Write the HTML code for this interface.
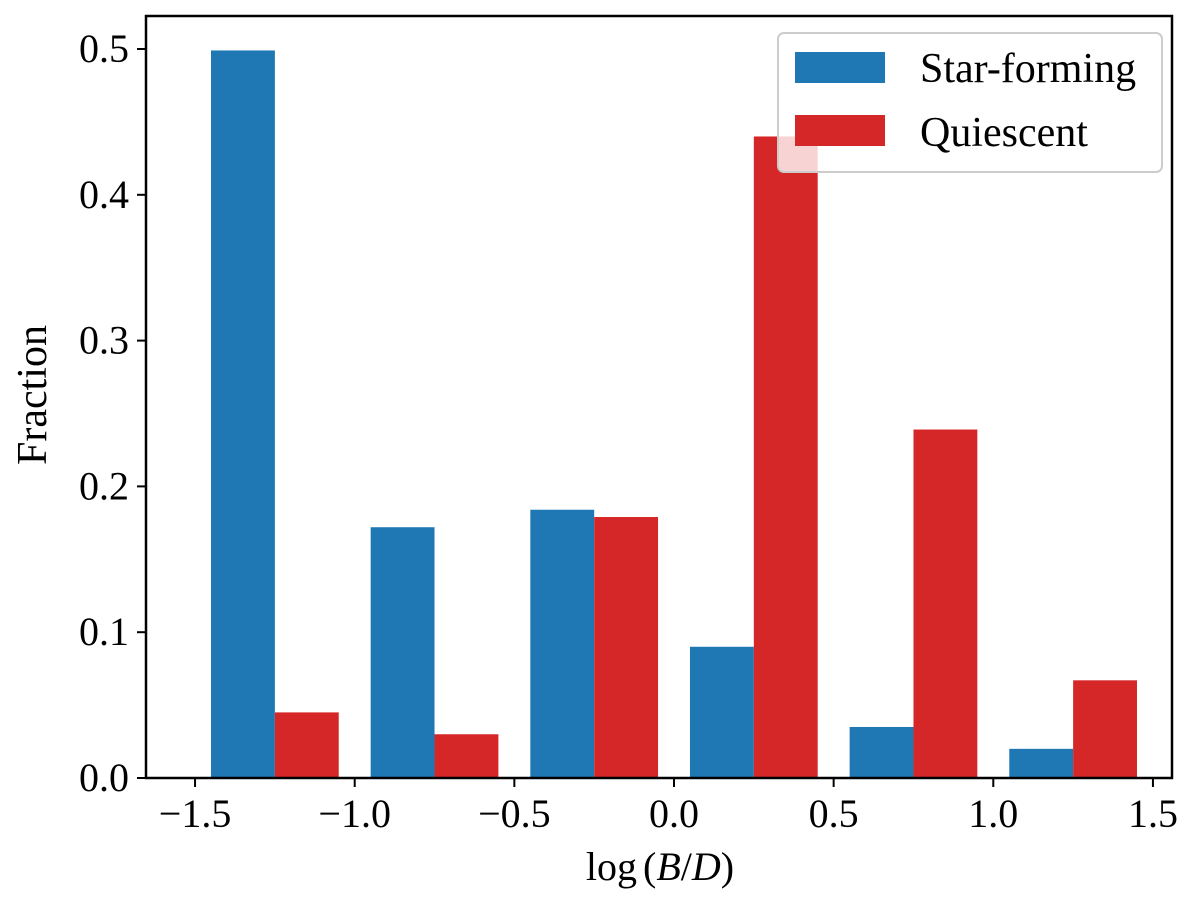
<!DOCTYPE html>
<html><head><meta charset="utf-8"><style>
html,body{margin:0;padding:0;background:#fff;}
svg text{font-family:"Liberation Serif",serif;fill:#000;}
</style></head><body>
<svg id="chart" width="1200" height="918" viewBox="0 0 1200 918" xmlns="http://www.w3.org/2000/svg">
<g id="bars"></g>
<g id="axes"></g>
<text x="660" y="880" font-size="40" text-anchor="middle">log<tspan dx="6">(</tspan><tspan font-style="italic">B</tspan>/<tspan font-style="italic">D</tspan>)</text>
<text transform="translate(46,395) rotate(-90)" font-size="42" text-anchor="middle">Fraction</text>
<g>
<rect x="778" y="33" width="384" height="139" rx="6" fill="#fff" fill-opacity="0.8" stroke="#ccc" stroke-width="2"/>
<rect x="795" y="52" width="90" height="31" fill="#1f77b4"/>
<text x="920" y="82" font-size="42">Star-forming</text>
<rect x="795" y="115" width="90" height="31" fill="#d62728"/>
<text x="920" y="146" font-size="42">Quiescent</text>
</g>
</svg>
<script>
const binCenters=[-1.25,-0.75,-0.25,0.25,0.75,1.25];
const starForming=[0.499,0.172,0.184,0.090,0.035,0.020];
const quiescent=[0.045,0.030,0.179,0.440,0.239,0.067];
const xTicks=[-1.5,-1.0,-0.5,0.0,0.5,1.0,1.5];
const yTicks=[0.0,0.1,0.2,0.3,0.4,0.5];
const L=146,R=1172,T=16,B=778;
const xs=v=>674+v*319.3;
const ys=v=>778-v*1458;
const NS="http://www.w3.org/2000/svg";
const bars=document.getElementById('bars'),axes=document.getElementById('axes');
function mk(tag,attrs,parent){const e=document.createElementNS(NS,tag);for(const k in attrs)e.setAttribute(k,attrs[k]);parent.appendChild(e);return e;}
binCenters.forEach((c,i)=>{
  const w=0.2;
  let r=mk('rect',{x:xs(c-w),y:ys(starForming[i]),width:xs(c)-xs(c-w),height:B-ys(starForming[i]),fill:'#1f77b4'},bars);
  
  
  let q=mk('rect',{x:xs(c),y:ys(quiescent[i]),width:xs(c+w)-xs(c),height:B-ys(quiescent[i]),fill:'#d62728'},bars);
  
  
});
const frame=mk('rect',{x:L,y:T,width:R-L,height:B-T,fill:'none',stroke:'#000','stroke-width':2.5},axes);


xTicks.forEach(t=>{
  mk('line',{x1:xs(t),x2:xs(t),y1:B,y2:B+9,stroke:'#000','stroke-width':2},axes);
  const tx=mk('text',{x:xs(t),y:B+49,'font-size':40,'text-anchor':'middle'},axes);
  tx.textContent=(t<0?'\u2212':'')+Math.abs(t).toFixed(1);
  
  
});
yTicks.forEach(t=>{
  mk('line',{x1:L-9,x2:L,y1:ys(t),y2:ys(t),stroke:'#000','stroke-width':2},axes);
  const tx=mk('text',{x:L-17,y:ys(t)+13,'font-size':40,'text-anchor':'end'},axes);
  tx.textContent=t.toFixed(1);
  
  
});
</script>
</body></html>
